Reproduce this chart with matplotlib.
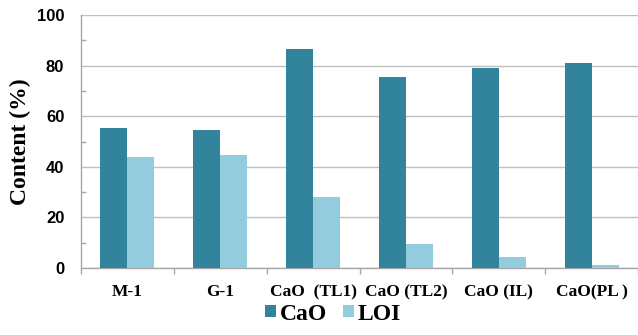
import matplotlib.pyplot as plt
import numpy as np
from matplotlib.ticker import MultipleLocator, FixedLocator

# sample labels and measured contents (%)
samples = ['M-1', 'G-1', 'CaO  (TL1)', 'CaO (TL2)', 'CaO (IL)', 'CaO(PL )']
cao = [55.3, 54.6, 86.5, 75.4, 79.1, 80.9]
loi = [43.7, 44.5, 28.0, 9.6, 4.5, 1.3]

CAO_COLOR = '#31849B'
LOI_COLOR = '#93CDDD'
AXIS_GRAY = '#A6A6A6'
SERIF = ['Liberation Serif', 'DejaVu Serif']
SANS = ['Liberation Sans', 'DejaVu Sans']

fig = plt.figure(figsize=(6.38, 3.35), dpi=100)
ax = fig.add_axes([81 / 638, 1 - 268 / 335, 557 / 638, 253 / 335])

x = np.arange(len(samples))
bar_w = 0.29
ax.bar(x - bar_w / 2, cao, width=bar_w, color=CAO_COLOR, label='CaO', zorder=3)
ax.bar(x + bar_w / 2, loi, width=bar_w, color=LOI_COLOR, label='LOI', zorder=3)

ax.set_xlim(-0.5, len(samples) - 0.5)
ax.set_ylim(0, 100)

# y axis: labelled majors with gridlines, small inward minor marks
ax.yaxis.set_major_locator(MultipleLocator(20))
ax.yaxis.set_minor_locator(FixedLocator([10, 30, 50, 70, 90]))
ax.grid(axis='y', which='major', color='#BFBFBF', linewidth=1.0, zorder=0)
ax.tick_params(axis='y', which='major', length=0, pad=12)
ax.tick_params(axis='y', which='minor', direction='in', length=3.5,
               color=AXIS_GRAY, width=1.0)
for lbl in ax.get_yticklabels():
    lbl.set_fontfamily(SANS)
    lbl.set_fontweight('bold')
    lbl.set_fontsize(12)

# x axis: category names with separator ticks between groups
ax.set_xticks(x)
ax.set_xticklabels(samples, fontfamily=SERIF, fontweight='bold', fontsize=12.5)
ax.xaxis.set_minor_locator(FixedLocator(np.arange(-0.5, len(samples), 1.0)))
ax.tick_params(axis='x', which='major', length=0, pad=11.5)
ax.tick_params(axis='x', which='minor', direction='out', length=4,
               color=AXIS_GRAY, width=1.0)

for side in ['top', 'right']:
    ax.spines[side].set_visible(False)
for side in ['left', 'bottom']:
    ax.spines[side].set_color(AXIS_GRAY)
    ax.spines[side].set_linewidth(1.0)

ax.set_ylabel('Content (%)', fontfamily=SERIF, fontweight='bold',
              fontsize=17, labelpad=4)

fig.legend(loc='center', bbox_to_anchor=(333 / 638, 1 - 314 / 335), ncol=2,
           frameon=False, prop={'family': SERIF, 'weight': 'bold', 'size': 17},
           handlelength=0.45, handleheight=0.45, handletextpad=0.15,
           columnspacing=0.7)

fig.savefig('out.png', dpi=100)
